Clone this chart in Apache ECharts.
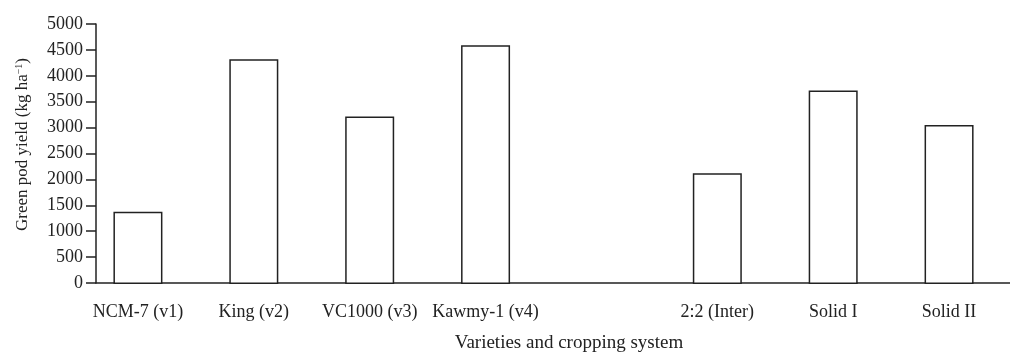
<!DOCTYPE html>
<html>
<head>
<meta charset="utf-8">
<script src="https://cdn.jsdelivr.net/npm/echarts@6/dist/echarts.min.js"></script>
<style>
html,body{margin:0;padding:0;background:#fff;}
#chart{width:1010px;height:358px;}
</style>
</head>
<body>
<div id="chart"></div>
<script>
const categories = ['NCM-7 (v1)', 'King (v2)', 'VC1000 (v3)', 'Kawmy-1 (v4)', '', '2:2 (Inter)', 'Solid I', 'Solid II'];
const yields = [1390, 4320, 3220, 4590, null, 2130, 3720, 3060];
const yMin = 0, yMax = 5000, yStep = 500;
const xTitle = 'Varieties and cropping system';
const yTitle = 'Green pod yield (kg ha{sup|−1})';

const font = 'Liberation Serif, Times New Roman, serif';
const ink = '#222';
const chart = echarts.init(document.getElementById('chart'));
chart.setOption({
  animation: false,
  backgroundColor: '#fff',
  grid: [
    {left: 80, right: 3, top: 24, bottom: 74},
    {left: 96, right: 0, top: 24, bottom: 74}
  ],
  xAxis: [
    {
      type: 'category', gridIndex: 0, data: categories,
      axisLine: {show: false}, axisTick: {show: false},
      axisLabel: {color: ink, fontFamily: font, fontSize: 18, margin: 19, interval: 0}
    },
    {
      type: 'value', gridIndex: 1, min: 0, max: 1,
      axisLine: {show: true, lineStyle: {color: ink, width: 1.5}},
      axisTick: {show: false}, axisLabel: {show: false}, splitLine: {show: false},
      name: xTitle, nameLocation: 'middle', nameGap: 51,
      nameTextStyle: {color: ink, fontFamily: font, fontSize: 19, padding: [0, 0, 0, 32]}
    }
  ],
  yAxis: [
    {
      type: 'value', gridIndex: 0, min: yMin, max: yMax, interval: yStep, show: false
    },
    {
      type: 'value', gridIndex: 1, min: yMin, max: yMax, interval: yStep,
      axisLine: {show: true, lineStyle: {color: ink, width: 1.5}},
      axisTick: {show: true, length: 10, lineStyle: {color: ink, width: 1.5}},
      axisLabel: {color: ink, fontFamily: font, fontSize: 18, margin: 13, formatter: v => String(v)},
      splitLine: {show: false},
      name: yTitle, nameLocation: 'middle', nameGap: 65,
      nameTextStyle: {
        color: ink, fontFamily: font, fontSize: 17, padding: [0, 0, 0, 18],
        rich: {sup: {fontFamily: font, fontSize: 10, verticalAlign: 'top', color: ink}}
      }
    }
  ],
  series: [
    {
      type: 'bar', xAxisIndex: 0, yAxisIndex: 0, data: yields, barWidth: 49,
      itemStyle: {color: '#fff', borderColor: ink, borderWidth: 1.5}
    },
    {
      type: 'line', xAxisIndex: 1, yAxisIndex: 1, data: [], silent: true
    }
  ]
});
</script>
</body>
</html>
